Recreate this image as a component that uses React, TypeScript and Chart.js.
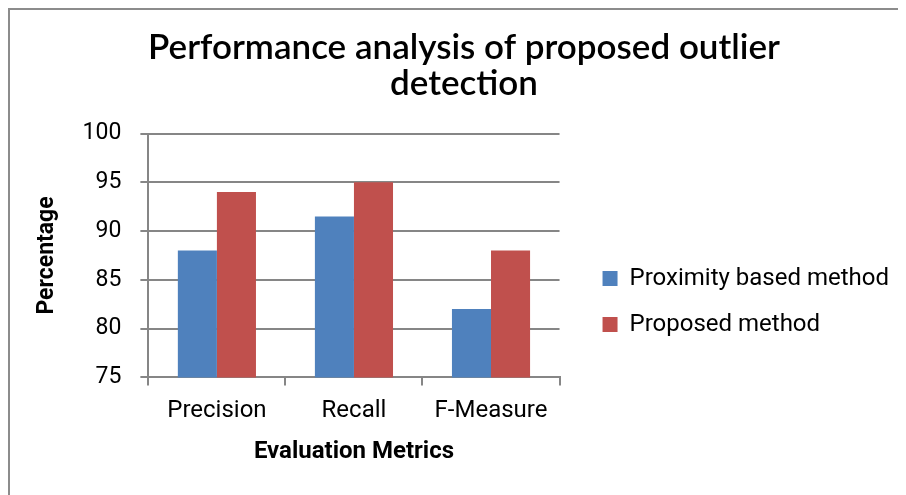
import React, { useEffect, useRef } from "react";
import { Chart, registerables } from "chart.js";

Chart.register(...registerables);

const categories = ["Precision", "Recall", "F-Measure"];
const proximityValues = [88, 91.5, 82];
const proposedValues = [94, 95, 88];
const seriesNames = ["Proximity based method", "Proposed method"];
const titleLines = ["Performance analysis of proposed outlier", "detection"];
const yTitle = "Percentage";
const xTitle = "Evaluation Metrics";

const LEGEND_GAP = 21;
const LEGEND_SHIFT_Y = 52;

const legendGap = {
  id: "legendGap",
  beforeLayout(chart: any) {
    const lg = chart.legend;
    if (lg && !lg.__patched) {
      const orig = lg.fit.bind(lg);
      lg.fit = function () {
        orig();
        this.width += LEGEND_GAP;
      };
      lg.__patched = true;
    }
  },
  afterLayout(chart: any) {
    const lg = chart.legend;
    if (lg) {
      lg.left += LEGEND_GAP;
      lg.top += LEGEND_SHIFT_Y;
      lg.bottom += LEGEND_SHIFT_Y;
    }
  },
};

export default function App() {
  const ref = useRef<HTMLCanvasElement | null>(null);
  useEffect(() => {
    if (!ref.current) return;
    const grid = "#868686";
    const chart = new Chart(ref.current, {
      type: "bar",
      data: {
        labels: categories,
        datasets: [
          { label: seriesNames[0], data: proximityValues, backgroundColor: "#4F81BD", barPercentage: 1, categoryPercentage: 0.57 },
          { label: seriesNames[1], data: proposedValues, backgroundColor: "#C0504D", barPercentage: 1, categoryPercentage: 0.57 },
        ],
      },
      plugins: [legendGap],
      options: {
        animation: false,
        responsive: true,
        maintainAspectRatio: false,
        layout: { padding: { left: 19, right: 7, top: 19, bottom: 25 } },
        plugins: {
          title: {
            display: true,
            text: titleLines,
            color: "#000",
            font: { family: "Lato", size: 35, weight: 600, lineHeight: 1.05 },
            padding: { top: 0, bottom: 31 },
          },
          legend: {
            position: "right",
            maxWidth: 400,
            labels: {
              boxWidth: 15,
              boxHeight: 15,
              padding: 22,
              color: "#000",
              font: { family: "Roboto", size: 24 },
            },
          },
          tooltip: { enabled: false },
        },
        scales: {
          x: {
            grid: { display: true, drawOnChartArea: false, drawTicks: true, tickLength: 8, color: grid, lineWidth: 2 },
            border: { color: grid, width: 2 },
            ticks: { color: "#000", font: { family: "Roboto", size: 24 }, padding: 11 },
            title: { display: true, text: xTitle, color: "#000", font: { family: "Roboto", size: 24, weight: "bold" }, padding: { top: 1 } },
          },
          y: {
            min: 75,
            max: 100,
            ticks: { stepSize: 5, color: "#000", font: { family: "Roboto", size: 23 }, padding: 19 },
            grid: { color: grid, lineWidth: 2, tickLength: 8 },
            border: { color: grid, width: 2 },
            title: { display: true, text: yTitle, color: "#000", font: { family: "Roboto", size: 23, weight: "bold" }, padding: { bottom: 3 } },
          },
        },
      },
    });
    return () => chart.destroy();
  }, []);
  return (
    <div
      style={{
        position: "relative",
        width: 896,
        height: 485,
        borderLeft: "2px solid #8c8c8c",
        borderTop: "2px solid #8c8c8c",
      }}
    >
      <canvas ref={ref} />
    </div>
  );
}
